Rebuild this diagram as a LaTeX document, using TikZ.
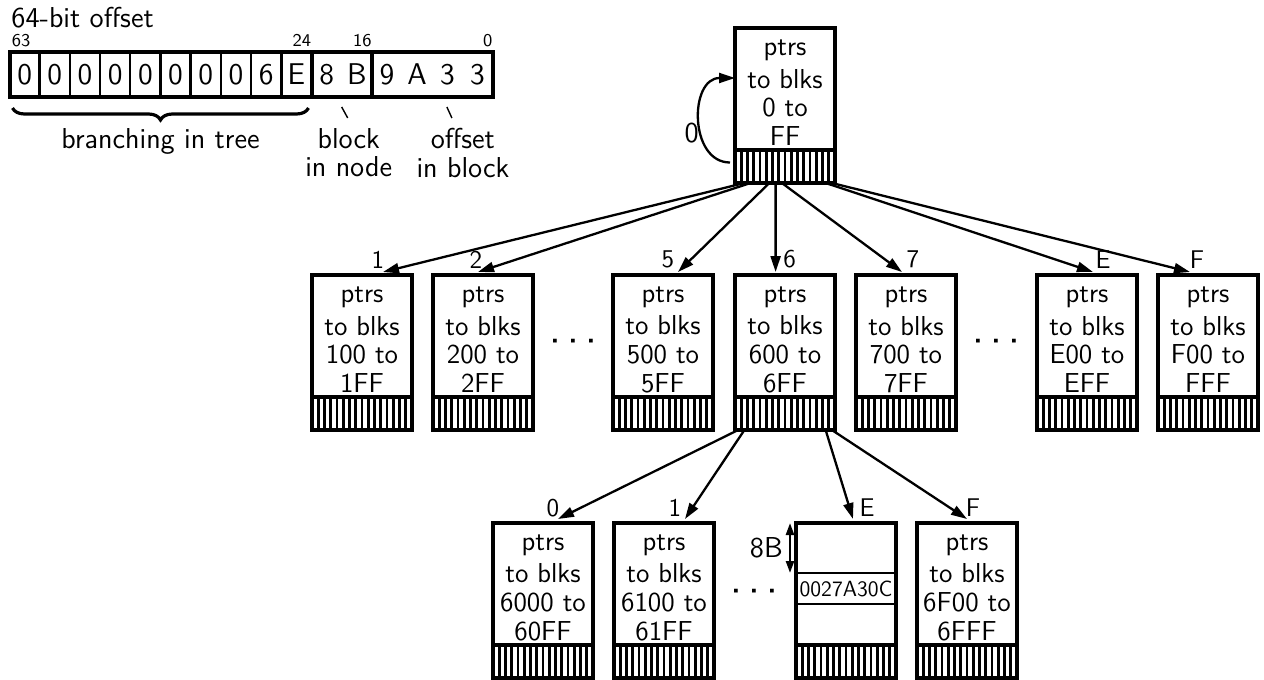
\documentclass[tikz,border=0pt]{standalone}
\usepackage{fontspec}
\usetikzlibrary{arrows.meta,calc,decorations.pathreplacing}

\tikzset{
  txt/.style={font=\fontsize{13.7}{14.3}\selectfont\sffamily,inner sep=0pt},
  lbl/.style={font=\fontsize{14.4}{14.2}\selectfont\sffamily,inner sep=0pt},
  bitno/.style={font=\fontsize{9}{10}\selectfont\sffamily,inner sep=0pt},
  idx/.style={font=\fontsize{12.8}{13}\selectfont\sffamily,inner sep=0pt},
  nibs/.style={draw,line width=2pt,outer sep=0pt,minimum height=22.5pt,inner sep=0pt,
    font=\fontsize{15}{16}\selectfont\sffamily},
  blk/.style={txt,draw,line width=2pt,outer sep=0pt,minimum width=50pt,minimum height=61pt,align=center},
  slots/.style={draw,line width=2pt,outer sep=0pt,minimum width=50pt,minimum height=16.5pt,inner sep=0pt,
    path picture={
      \foreach \k in {1,...,15}
        \draw[line width=1.3pt]
          ($(path picture bounding box.south west)!\k/16!(path picture bounding box.south east)$) --
          ($(path picture bounding box.north west)!\k/16!(path picture bounding box.north east)$);}},
  entry/.style={draw,line width=1.2pt,outer sep=0pt,minimum width=50pt,minimum height=15.5pt,inner sep=0pt,
    font=\fontsize{11}{12}\selectfont\sffamily},
  ptr/.style={line width=1.15pt,-{Triangle[length=8pt,width=5pt]}},
  tick/.style={line width=0.7pt},
  dots/.style={font=\fontsize{6.5}{7}\selectfont\sffamily,inner sep=0pt},
}

% one hex digit of the offset
\newcommand\nib[1]{\makebox[15.1pt]{#1}}
% three dots between nodes
\newcommand\dotrow{\makebox[9pt]{\textbullet}\makebox[9pt]{\textbullet}\makebox[9pt]{\textbullet}}
% a tree node: pointer part with its row of slots below
\newcommand\ptrnode[4]{%
  \node[blk,anchor=north west] (#1) at (#2,#3) {\rule{0pt}{11.5pt}ptrs\\[2pt]to blks\\#4};
  \node[slots,anchor=north] (#1s) at (#1.south) {};
}

\begin{document}
\begin{tikzpicture}[x=0.5pt,y=-0.5pt]
\useasboundingbox (0,0) rectangle (1264,680);

% the offset, split into its fields
\node[lbl,anchor=base west] (title) at (11,27) {64-bit offset};
\node[nibs,minimum width=151pt,anchor=north west] (bitsTree) at (9.5,52)
  {\nib{0}\nib{0}\nib{0}\nib{0}\nib{0}\nib{0}\nib{0}\nib{0}\nib{6}\nib{E}};
\node[nibs,minimum width=30.2pt,anchor=north west] (bitsBlk) at (bitsTree.north east) {\nib{8}\nib{B}};
\node[nibs,minimum width=60.4pt,anchor=north west] (bitsOff) at (bitsBlk.north east) {\nib{9}\nib{A}\nib{3}\nib{3}};
\foreach \k in {1,...,9}
  \draw[line width=1.2pt] ($(bitsTree.north west)!\k/10!(bitsTree.north east)$) --
    ($(bitsTree.south west)!\k/10!(bitsTree.south east)$);

\node[bitno,anchor=south west] (b63) at ([xshift=1pt,yshift=2.5pt]bitsTree.north west) {63};
\node[bitno,anchor=south east] (b24) at ([yshift=2.5pt]bitsTree.north east) {24};
\node[bitno,anchor=south east] (b16) at ([yshift=2.5pt]bitsBlk.north east) {16};
\node[bitno,anchor=south east] (b0) at ([yshift=2.5pt]bitsOff.north east) {0};

\draw[decorate,decoration={brace,mirror,amplitude=6pt},line width=1.6pt]
  ([xshift=1.5pt,yshift=-5.5pt]bitsTree.south west) -- ([xshift=-1.5pt,yshift=-5.5pt]bitsTree.south east);
\node[lbl,anchor=north] (lblTree) at ([yshift=-15.5pt]bitsTree.south) {branching in tree};
\node[lbl,anchor=north,align=center] (lblBlk) at ([xshift=3.5pt,yshift=-15.5pt]bitsBlk.south) {block\\in node};
\node[lbl,anchor=north,align=center] (lblOff) at ([xshift=15.3pt,yshift=-15.5pt]bitsOff.south) {offset\\in block};
\draw[tick] ([yshift=-5pt]bitsBlk.south) -- ([xshift=-0.5pt,yshift=5pt]lblBlk.north);
\draw[tick] ([xshift=7.3pt,yshift=-5pt]bitsOff.south) -- ([xshift=-5.5pt,yshift=5pt]lblOff.north);

% root of the tree
\ptrnode{root}{735}{28}{0 to\\FF}
\draw[ptr] ([xshift=-2.5pt,yshift=2pt]roots.west) .. controls +(-20.5pt,0) and +(-23pt,0) ..
  ([yshift=-25pt]root.north west) node[lbl,pos=0.4,left=0.5pt] (i0) {0};

% second level
\ptrnode{b1}{312}{275}{100 to\\1FF}
\ptrnode{b2}{433}{275}{200 to\\2FF}
\ptrnode{b5}{613}{275}{500 to\\5FF}
\ptrnode{b6}{735}{275}{600 to\\6FF}
\ptrnode{b7}{856}{275}{700 to\\7FF}
\ptrnode{bE}{1037}{275}{E00 to\\EFF}
\ptrnode{bF}{1158}{275}{F00 to\\FFF}
\node[dots] (dotsA) at (573,342) {\dotrow};
\node[dots] (dotsB) at (996,342) {\dotrow};

\draw[ptr] ($(roots.south west)!1.5/16!(roots.south east)$) -- ([xshift=35.5pt,yshift=1.5pt]b1.north west)
  node[idx,xshift=-2.5pt,yshift=6.3pt] (i1) {1};
\draw[ptr] ($(roots.south west)!2.5/16!(roots.south east)$) -- ([xshift=22.5pt,yshift=1.5pt]b2.north west)
  node[idx,xshift=-1pt,yshift=6.3pt] (i2) {2};
\draw[ptr] ($(roots.south west)!5.5/16!(roots.south east)$) -- ([xshift=32.5pt,yshift=1.5pt]b5.north west)
  node[idx,xshift=-5pt,yshift=6.3pt] (i5) {5};
\draw[ptr] ($(roots.south west)!6.5/16!(roots.south east)$) -- ([xshift=20.3pt,yshift=1.5pt]b6.north west)
  node[idx,xshift=7pt,yshift=6.3pt] (i6) {6};
\draw[ptr] ($(roots.south west)!7.5/16!(roots.south east)$) -- ([xshift=23pt,yshift=1.5pt]b7.north west)
  node[idx,xshift=5.5pt,yshift=6.3pt] (i7) {7};
\draw[ptr] ($(roots.south west)!14.5/16!(roots.south east)$) -- ([xshift=28pt,yshift=1.5pt]bE.north west)
  node[idx,xshift=5pt,yshift=6.3pt] (iE) {E};
\draw[ptr] ($(roots.south west)!15.5/16!(roots.south east)$) -- ([xshift=16pt,yshift=1.5pt]bF.north west)
  node[idx,xshift=3.5pt,yshift=6.3pt] (iF) {F};

% third level, below node 6
\ptrnode{c0}{493}{523}{6000 to\\60FF}
\ptrnode{c1}{614}{523}{6100 to\\61FF}
\ptrnode{cF}{917}{523}{6F00 to\\6FFF}
\node[dots] (dotsC) at (754,592) {\dotrow};

% data block with one 8-byte entry
\node[blk,anchor=north west] (cE) at (796,523) {};
\node[slots,anchor=north] (cEs) at (cE.south) {};
\node[entry,anchor=north] (ent) at ([yshift=-25pt]cE.north) {0027A30C};
\draw[line width=1.2pt,{Triangle[length=6pt,width=4pt]}-{Triangle[length=6pt,width=4pt]}]
  ([xshift=-3pt]cE.north west) -- ([xshift=-3pt]ent.north west)
  node[lbl,midway,left=3pt] (sz) {8B};

\draw[ptr] ($(b6s.south west)!0.5/16!(b6s.south east)$) -- ([xshift=32.5pt,yshift=2pt]c0.north west)
  node[idx,xshift=-2.5pt,yshift=5.5pt] (j0) {0};
\draw[ptr] ($(b6s.south west)!1.5/16!(b6s.south east)$) -- ([xshift=35.5pt,yshift=2pt]c1.north west)
  node[idx,xshift=-5pt,yshift=5.5pt] (j1) {1};
\draw[ptr] ($(b6s.south west)!14.5/16!(b6s.south east)$) -- ([xshift=28.5pt,yshift=2pt]cE.north west)
  node[idx,xshift=7pt,yshift=5.5pt] (jE) {E};
\draw[ptr] ($(b6s.south west)!15.5/16!(b6s.south east)$) -- ([xshift=25pt,yshift=2pt]cF.north west)
  node[idx,xshift=3pt,yshift=5.5pt] (jF) {F};
\end{tikzpicture}
\end{document}
